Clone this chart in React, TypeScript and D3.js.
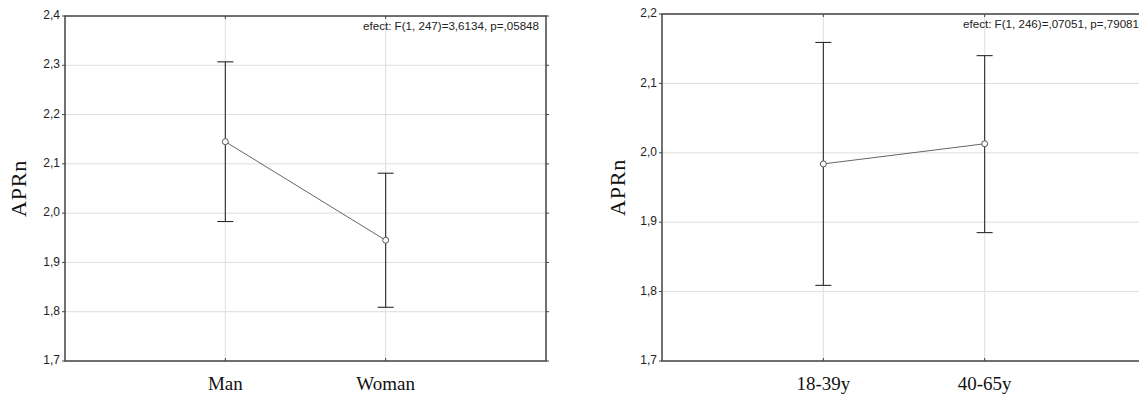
import React from 'react';
import * as d3 from 'd3';

// left panel: sex
const sexCategories = ['Man', 'Woman'];
const sexMeans = [2.145, 1.945];
const sexLower = [1.983, 1.809];
const sexUpper = [2.307, 2.081];
const sexTicks = [1.7, 1.8, 1.9, 2.0, 2.1, 2.2, 2.3, 2.4];
const sexEffect = 'efect: F(1, 247)=3,6134, p=,05848';

// right panel: age
const ageCategories = ['18-39y', '40-65y'];
const ageMeans = [1.984, 2.013];
const ageLower = [1.809, 1.885];
const ageUpper = [2.159, 2.14];
const ageTicks = [1.7, 1.8, 1.9, 2.0, 2.1, 2.2];
const ageEffect = 'efect: F(1, 246)=,07051, p=,79081';

const yLabel = 'APRn';

const fmt = d3.formatLocale({
  decimal: ',',
  thousands: ' ',
  grouping: [3],
  currency: ['', ''],
}).format('.1f');

const SANS = '"Liberation Sans", Arial, sans-serif';
const SERIF = '"Liberation Serif", "Times New Roman", serif';

function Panel({ left, top, width, height, categories, means, lower, upper, ticks, effect, labelX }) {
  const x = d3.scalePoint().domain(categories).range([left, left + width]).padding(1);
  const y = d3
    .scaleLinear()
    .domain([ticks[0], ticks[ticks.length - 1]])
    .range([top + height, top]);

  const pts = categories.map((c, i) => ({ c, m: means[i], lo: lower[i], hi: upper[i] }));
  const line = d3
    .line()
    .x(d => x(d.c))
    .y(d => y(d.m));

  const cap = 8;

  return (
    <g>
      {/* grid */}
      {ticks.map(t => (
        <line key={'gy' + t} x1={left} x2={left + width} y1={y(t)} y2={y(t)} stroke="#dedede" strokeWidth={1} />
      ))}
      {categories.map(c => (
        <line key={'gx' + c} x1={x(c)} x2={x(c)} y1={top} y2={top + height} stroke="#dedede" strokeWidth={1} />
      ))}

      {/* frame */}
      <rect x={left} y={top} width={width} height={height} fill="none" stroke="#444" strokeWidth={1.5} />

      {/* y ticks */}
      {ticks.map(t => (
        <g key={'t' + t}>
          <line x1={left - 3} x2={left} y1={y(t)} y2={y(t)} stroke="#444" />
          <line x1={left + width} x2={left + width + 3} y1={y(t)} y2={y(t)} stroke="#444" />
          <text
            x={left - 5}
            y={y(t)}
            textAnchor="end"
            dominantBaseline="middle"
            fontFamily={SANS}
            fontSize={12}
            fill="#222"
          >
            {fmt(t)}
          </text>
        </g>
      ))}

      {/* x ticks + labels */}
      {categories.map(c => (
        <g key={'xl' + c}>
          <line x1={x(c)} x2={x(c)} y1={top} y2={top + 3} stroke="#444" />
          <line x1={x(c)} x2={x(c)} y1={top + height - 3} y2={top + height} stroke="#444" />
          <text x={x(c)} y={390} textAnchor="middle" fontFamily={SERIF} fontSize={19} fill="#111">
            {c}
          </text>
        </g>
      ))}

      {/* error bars */}
      {pts.map(d => (
        <g key={'e' + d.c} stroke="#2a2a2a" strokeWidth={1.1}>
          <line x1={x(d.c)} x2={x(d.c)} y1={y(d.lo)} y2={y(d.hi)} />
          <line x1={x(d.c) - cap} x2={x(d.c) + cap} y1={y(d.lo)} y2={y(d.lo)} />
          <line x1={x(d.c) - cap} x2={x(d.c) + cap} y1={y(d.hi)} y2={y(d.hi)} />
        </g>
      ))}

      {/* means */}
      <path d={line(pts)} fill="none" stroke="#666" strokeWidth={1} />
      {pts.map(d => (
        <circle key={'m' + d.c} cx={x(d.c)} cy={y(d.m)} r={3} fill="#fff" stroke="#555" strokeWidth={1} />
      ))}

      <text x={left + width - 7} y={top + 14} textAnchor="end" fontFamily={SANS} fontSize={11.6} fill="#222">
        {effect}
      </text>

      <text
        transform={`translate(${labelX},${top + height / 2}) rotate(-90)`}
        textAnchor="middle"
        dominantBaseline="middle"
        fontFamily={SERIF}
        fontSize={22}
        letterSpacing={0.8}
        fill="#111"
      >
        {yLabel}
      </text>
    </g>
  );
}

export default function App() {
  return (
    <svg
      width={1139}
      height={400}
      style={{ position: 'absolute', left: 0, top: 0, background: '#fff' }}
    >
      <Panel
        left={65}
        top={16}
        width={481}
        height={345}
        categories={sexCategories}
        means={sexMeans}
        lower={sexLower}
        upper={sexUpper}
        ticks={sexTicks}
        effect={sexEffect}
        labelX={21}
      />
      <Panel
        left={662}
        top={14}
        width={484}
        height={347}
        categories={ageCategories}
        means={ageMeans}
        lower={ageLower}
        upper={ageUpper}
        ticks={ageTicks}
        effect={ageEffect}
        labelX={620}
      />
    </svg>
  );
}
